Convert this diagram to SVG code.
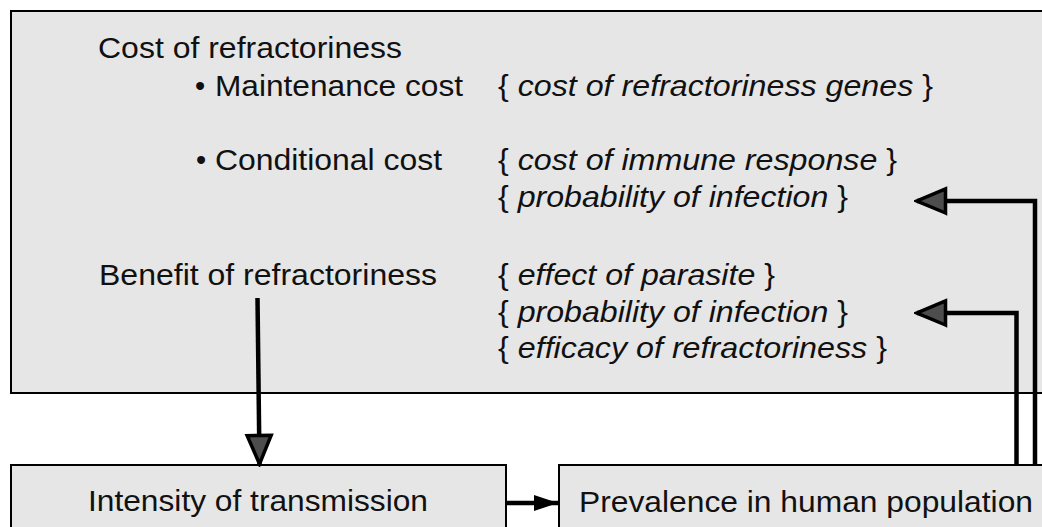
<svg xmlns="http://www.w3.org/2000/svg" width="1042" height="527" viewBox="0 0 1042 527">
<style>
.box{fill:#e6e6e6;stroke:#000;stroke-width:2}
text{font-family:"Liberation Sans",Arial,Helvetica,sans-serif;font-size:29px;fill:#111}
.it{font-style:italic}
.conn{fill:none;stroke:#000;stroke-width:4.5}
</style>
<defs>
<marker id="grayhead" markerUnits="userSpaceOnUse" viewBox="0 0 34 30" markerWidth="34" markerHeight="30" refX="31" refY="15" orient="auto">
<path d="M2.5,3 L31,15 L2.5,27 Z" fill="#4d4d4d" stroke="#000" stroke-width="3.5" stroke-linejoin="miter"/>
</marker>
<marker id="blackhead" markerUnits="userSpaceOnUse" viewBox="0 0 26 18" markerWidth="26" markerHeight="18" refX="24" refY="9" orient="auto">
<path d="M0,1 L24,9 L0,17 Z" fill="#000"/>
</marker>
</defs>
<rect x="0" y="0" width="1042" height="527" fill="#fff"/>
<g id="node-refractoriness">
<rect class="box" x="11" y="11" width="1045" height="382"/>
<text x="98" y="58" textLength="304" lengthAdjust="spacingAndGlyphs">Cost of refractoriness</text>
<text x="195" y="96">•</text>
<text x="215" y="96" textLength="248" lengthAdjust="spacingAndGlyphs">Maintenance cost</text>
<text x="196" y="170">•</text>
<text x="215" y="170" textLength="227" lengthAdjust="spacingAndGlyphs">Conditional cost</text>
<text x="99" y="285" textLength="338" lengthAdjust="spacingAndGlyphs">Benefit of refractoriness</text>
<text x="498" y="96" textLength="435" lengthAdjust="spacingAndGlyphs">{ <tspan class="it">cost of refractoriness genes</tspan> }</text>
<text x="498" y="170" textLength="399" lengthAdjust="spacingAndGlyphs">{ <tspan class="it">cost of immune response</tspan> }</text>
<text x="498" y="207" textLength="350" lengthAdjust="spacingAndGlyphs">{ <tspan class="it">probability of infection</tspan> }</text>
<text x="498" y="285" textLength="277" lengthAdjust="spacingAndGlyphs">{ <tspan class="it">effect of parasite</tspan> }</text>
<text x="498" y="322" textLength="350" lengthAdjust="spacingAndGlyphs">{ <tspan class="it">probability of infection</tspan> }</text>
<text x="498" y="358" textLength="389" lengthAdjust="spacingAndGlyphs">{ <tspan class="it">efficacy of refractoriness</tspan> }</text>
</g>
<g id="node-transmission">
<rect class="box" x="11" y="465" width="495" height="80"/>
<text x="88" y="511" textLength="340" lengthAdjust="spacingAndGlyphs">Intensity of transmission</text>
</g>
<g id="node-prevalence">
<rect class="box" x="559" y="465" width="500" height="80"/>
<text x="579" y="512" textLength="454" lengthAdjust="spacingAndGlyphs">Prevalence in human population</text>
</g>
<g id="connectors">
<path class="conn" d="M257.5,298 L259.5,464" marker-end="url(#grayhead)"/>
<path class="conn" d="M506,503 L558,503" marker-end="url(#blackhead)"/>
<path class="conn" d="M1035,465 V201 H917" marker-end="url(#grayhead)"/>
<path class="conn" d="M1016.5,465 V313 H917" marker-end="url(#grayhead)"/>
</g>
</svg>
